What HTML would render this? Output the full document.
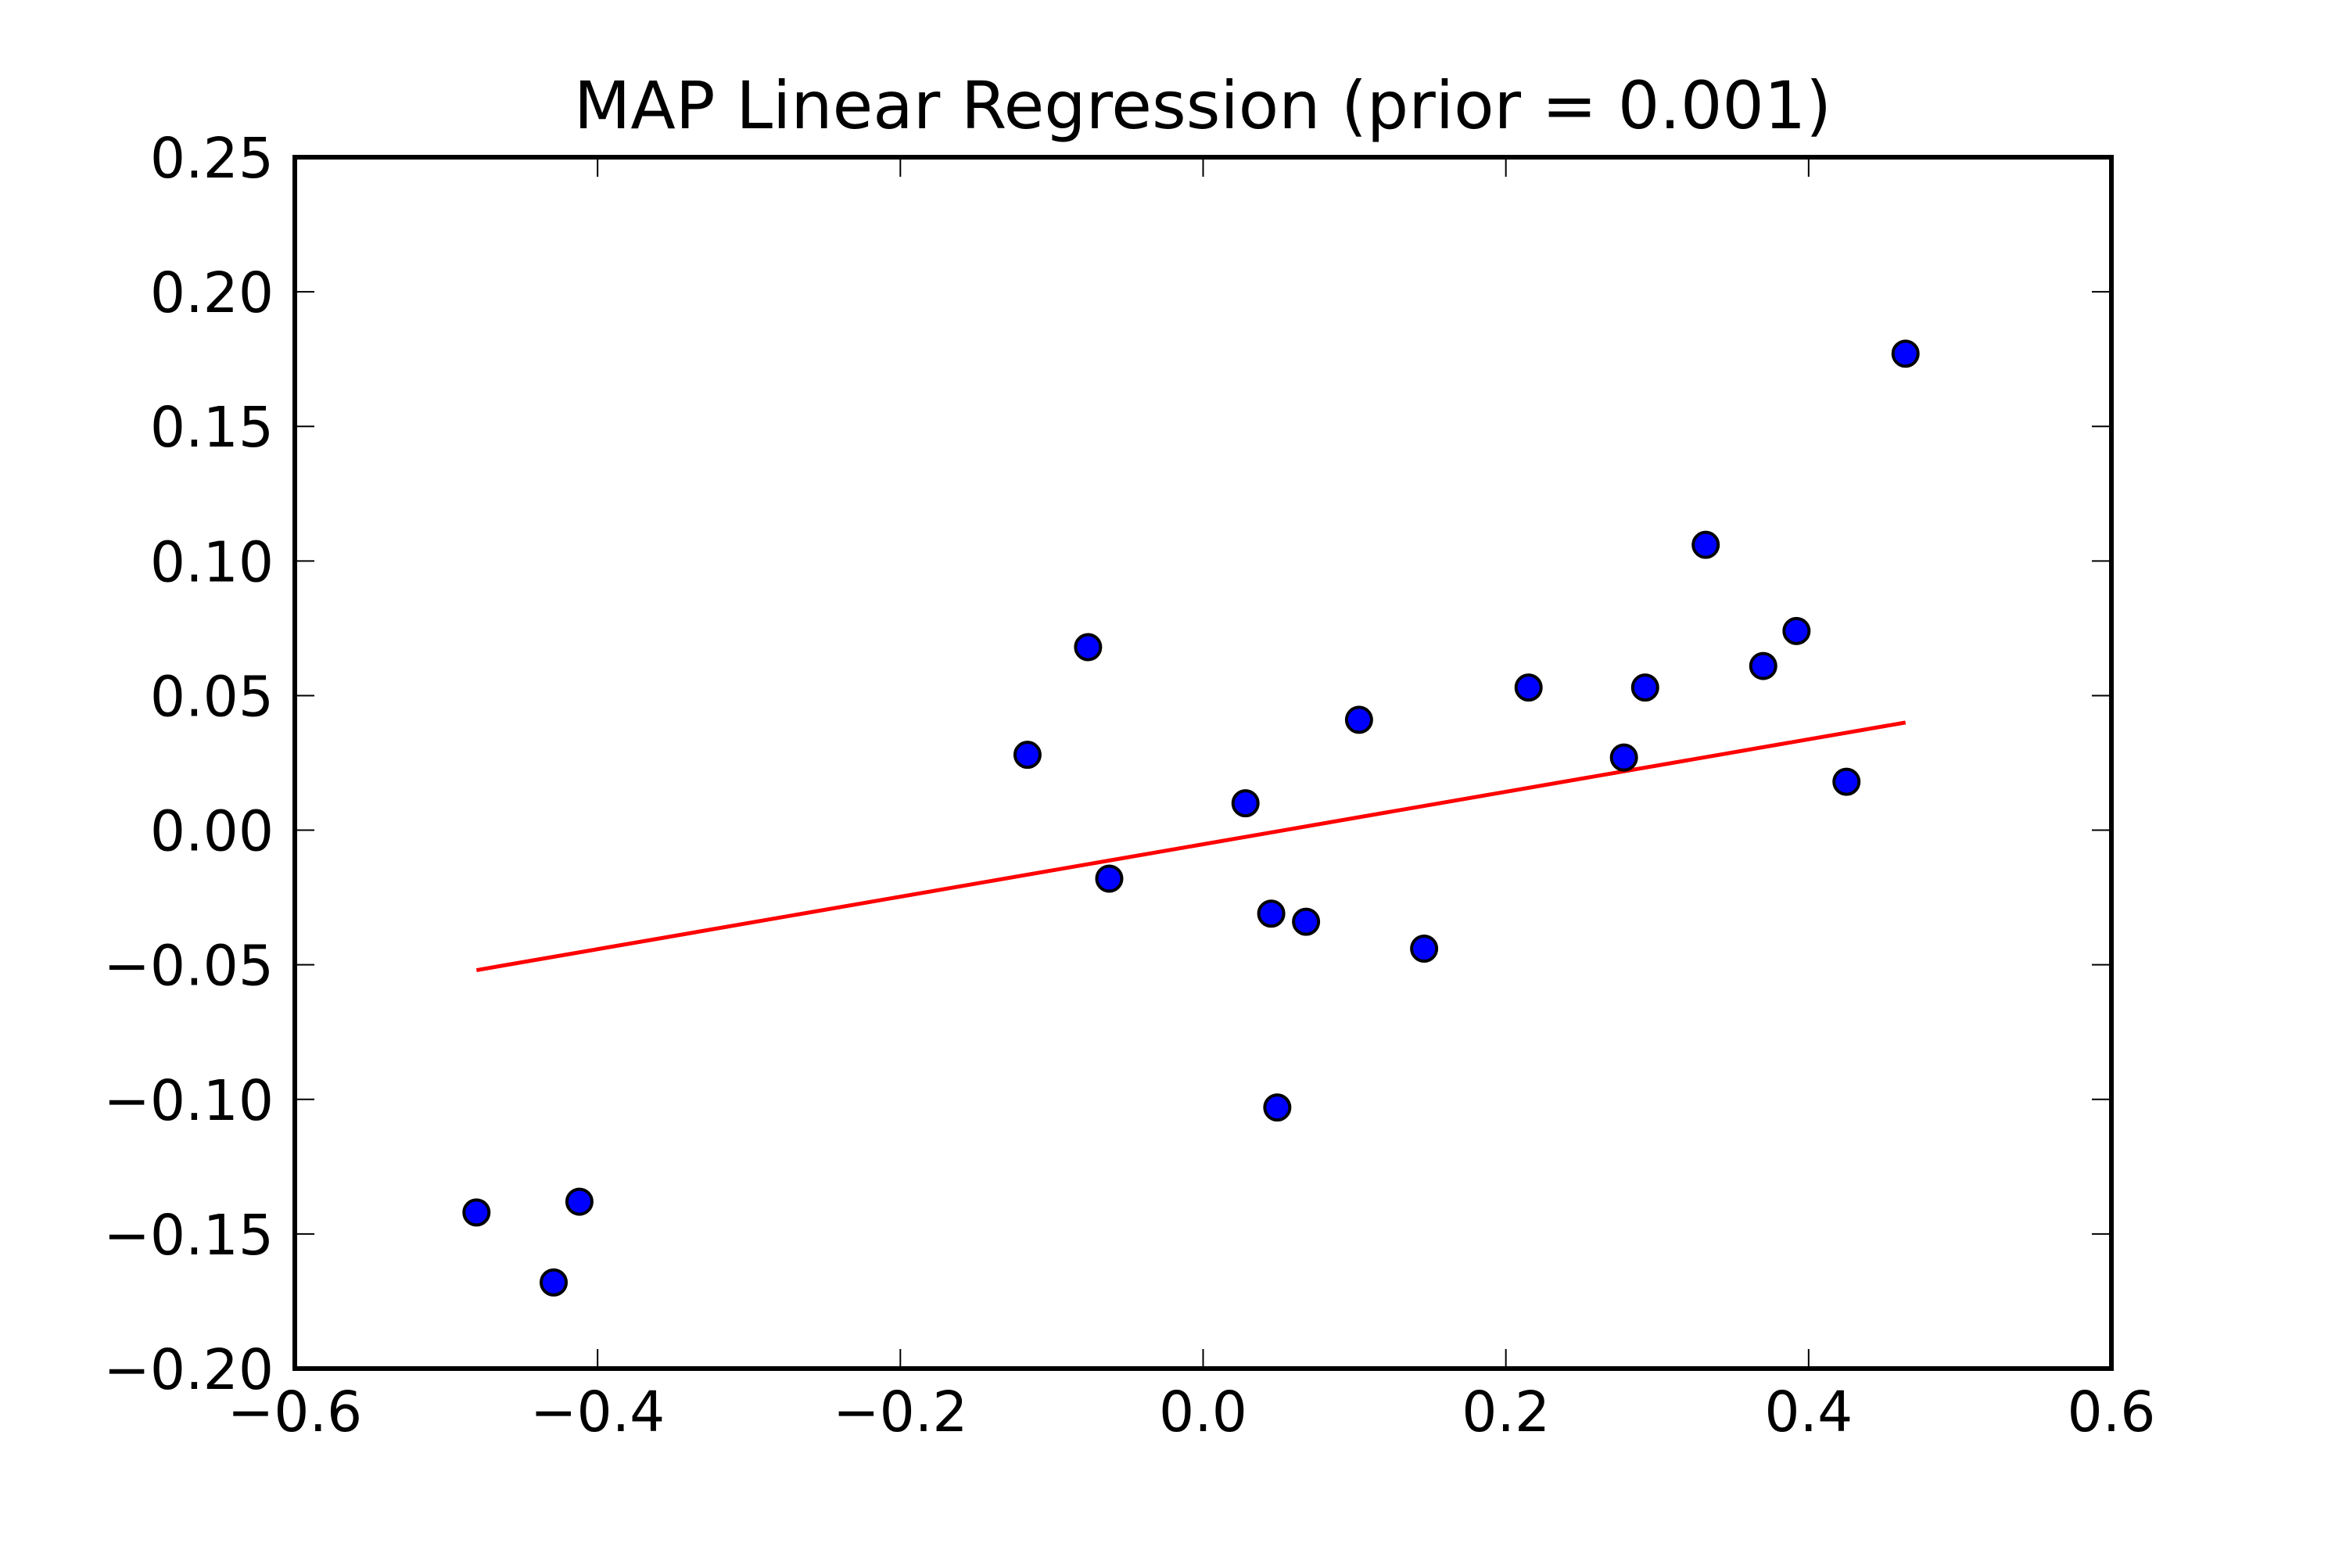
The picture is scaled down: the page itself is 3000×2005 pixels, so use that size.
<!DOCTYPE html>
<html><head><meta charset="utf-8"><style>
html,body{margin:0;padding:0;background:#fff;}
svg text{font-family:"DejaVu Sans","Liberation Sans",sans-serif;fill:#000;}
</style></head><body>
<svg id="chart" width="3000" height="2000" xmlns="http://www.w3.org/2000/svg">
<rect width="3000" height="2000" fill="#fff"/>
<text x="1538" y="164" font-size="84" text-anchor="middle">MAP Linear Regression (prior = 0.001)</text>
<g id="plot"></g>
</svg>
<script>
const xs=[-0.480,-0.429,-0.412,-0.116,-0.076,-0.062,0.028,0.045,0.049,0.068,0.103,0.146,0.215,0.278,0.292,0.332,0.370,0.392,0.425,0.464];
const ys=[-0.142,-0.168,-0.138,0.028,0.068,-0.018,0.010,-0.031,-0.103,-0.034,0.041,-0.044,0.053,0.027,0.053,0.106,0.061,0.074,0.018,0.177];
const lineX=[-0.48,0.464];
const lineY=[-0.052,0.040];
const xTicks=[-0.6,-0.4,-0.2,0.0,0.2,0.4,0.6];
const xTickLabels=["\u22120.6","\u22120.4","\u22120.2","0.0","0.2","0.4","0.6"];
const yTicks=[-0.20,-0.15,-0.10,-0.05,0.00,0.05,0.10,0.15,0.20,0.25];
const yTickLabels=["\u22120.20","\u22120.15","\u22120.10","\u22120.05","0.00","0.05","0.10","0.15","0.20","0.25"];
const L=377,R=2700,T=201,B=1750,xmin=-0.6,xmax=0.6,ymin=-0.2,ymax=0.25;
const X=v=>L+(v-xmin)/(xmax-xmin)*(R-L);
const Y=v=>B-(v-ymin)/(ymax-ymin)*(B-T);
const NS="http://www.w3.org/2000/svg";
const g=document.getElementById('plot');
function mk(t,a){const e=document.createElementNS(NS,t);for(const k in a)e.setAttribute(k,a[k]);g.appendChild(e);return e;}
xTicks.forEach((v,i)=>{
 const x=X(v);
 let t=mk('line',{x1:x,x2:x,y1:B,y2:B-25,stroke:'#000','stroke-width':2});
 
 
 t=mk('line',{x1:x,x2:x,y1:T,y2:T+25,stroke:'#000','stroke-width':2});
 
 
 const l=mk('text',{x:x,y:1830,'font-size':71,'text-anchor':'middle'});l.textContent=xTickLabels[i];
 
 
});
yTicks.forEach((v,i)=>{
 const y=Y(v);
 let t=mk('line',{x1:L,x2:L+25,y1:y,y2:y,stroke:'#000','stroke-width':2});
 
 
 t=mk('line',{x1:R,x2:R-25,y1:y,y2:y,stroke:'#000','stroke-width':2});
 
 
 const l=mk('text',{x:350,y:y+26,'font-size':71,'text-anchor':'end'});l.textContent=yTickLabels[i];
 
 
});
const ln=mk('line',{x1:X(lineX[0]),y1:Y(lineY[0]),x2:X(lineX[1]),y2:Y(lineY[1]),stroke:'#ff0000','stroke-width':5});


xs.forEach((v,i)=>{
 const c=mk('circle',{cx:X(v),cy:Y(ys[i]),r:16,fill:'#0000ff',stroke:'#000','stroke-width':4});
 
 
});
const fr=mk('rect',{x:L,y:T,width:R-L,height:B-T,fill:'none',stroke:'#000','stroke-width':6});


</script>
</body></html>
